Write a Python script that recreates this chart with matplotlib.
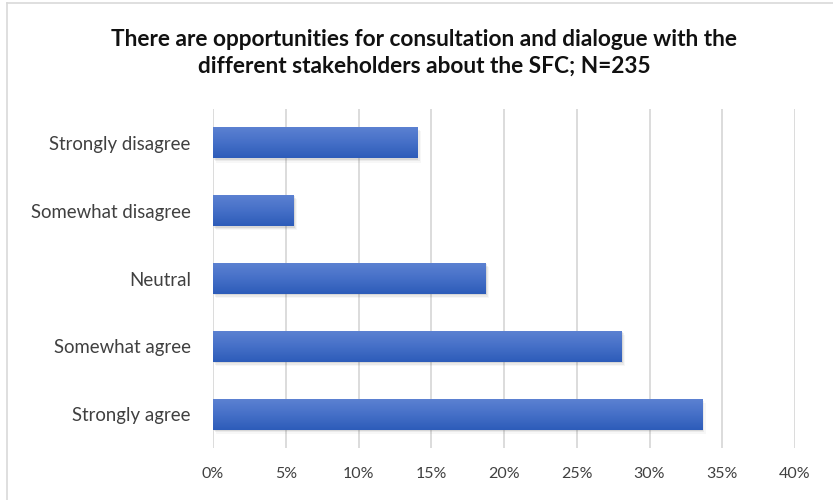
import numpy as np
import matplotlib
matplotlib.use("Agg")
import matplotlib.pyplot as plt
import matplotlib.patches as patches
from matplotlib.colors import LinearSegmentedColormap
from matplotlib.ticker import FuncFormatter

plt.rcParams['font.family'] = ['Lato', 'DejaVu Sans']

categories = ['Strongly agree', 'Somewhat agree', 'Neutral',
              'Somewhat disagree', 'Strongly disagree']
counts = [79, 66, 44, 13, 33]
total = 235
shares = [c / total * 100 for c in counts]

title = ('There are opportunities for consultation and dialogue with the\n'
         'different stakeholders about the SFC; N=235')

fig = plt.figure(figsize=(8.33, 5), dpi=100)
ax = fig.add_axes([0.2557, 0.104, 0.6987, 0.678])

ypos = np.arange(len(categories))
bars = ax.barh(ypos, shares, height=0.46, color='none', zorder=3)

# gradient fill (light top, dark bottom) + soft shadow on each bar
grad = LinearSegmentedColormap.from_list('bluegrad', ['#2d5cb9', '#4670c8', '#5d82d2'])
g = np.linspace(0, 1, 64).reshape(-1, 1)
for b in bars:
    x0, y0 = b.get_x(), b.get_y()
    w, h = b.get_width(), b.get_height()
    for k, a in enumerate([0.10, 0.07, 0.04]):
        sh = patches.Rectangle((x0 + 0.08 * (k + 1), y0 - 0.02 * (k + 1)), w, h,
                               facecolor='#404040', edgecolor='none', alpha=a, zorder=2)
        ax.add_patch(sh)
    im = ax.imshow(g, cmap=grad, aspect='auto', origin='lower',
                   extent=(x0, x0 + w, y0, y0 + h), zorder=3)
    im.set_clip_path(b)

ax.set_xlim(0, 40)
ax.set_ylim(-0.5, len(categories) - 0.5)
ax.set_xticks(np.arange(0, 41, 5))
ax.xaxis.set_major_formatter(FuncFormatter(lambda v, p: f'{v:.0f}%'))
ax.set_yticks(ypos)
ax.set_yticklabels(categories)
ax.grid(axis='x', color='#d9d9d9', linewidth=1.3, zorder=0)
ax.set_axisbelow(True)
for s in ax.spines.values():
    s.set_visible(False)
ax.tick_params(axis='both', length=0, colors='#404040')
ax.tick_params(axis='x', pad=14, labelsize=11.5)
ax.tick_params(axis='y', pad=16, labelsize=13.4)

fig.text(0.509, 0.894, title, ha='center', va='center', fontsize=16.3,
         fontweight='bold', color='#111111', linespacing=1.35)

# outer chart frame (top and left edges visible)
fig.add_artist(plt.Line2D([0.008, 1], [0.994, 0.994], color='#d9d9d9', lw=1.2,
                          transform=fig.transFigure))
fig.add_artist(plt.Line2D([0.008, 0.008], [0, 0.994], color='#d9d9d9', lw=1.2,
                          transform=fig.transFigure))

fig.savefig('out.png', dpi=100)
